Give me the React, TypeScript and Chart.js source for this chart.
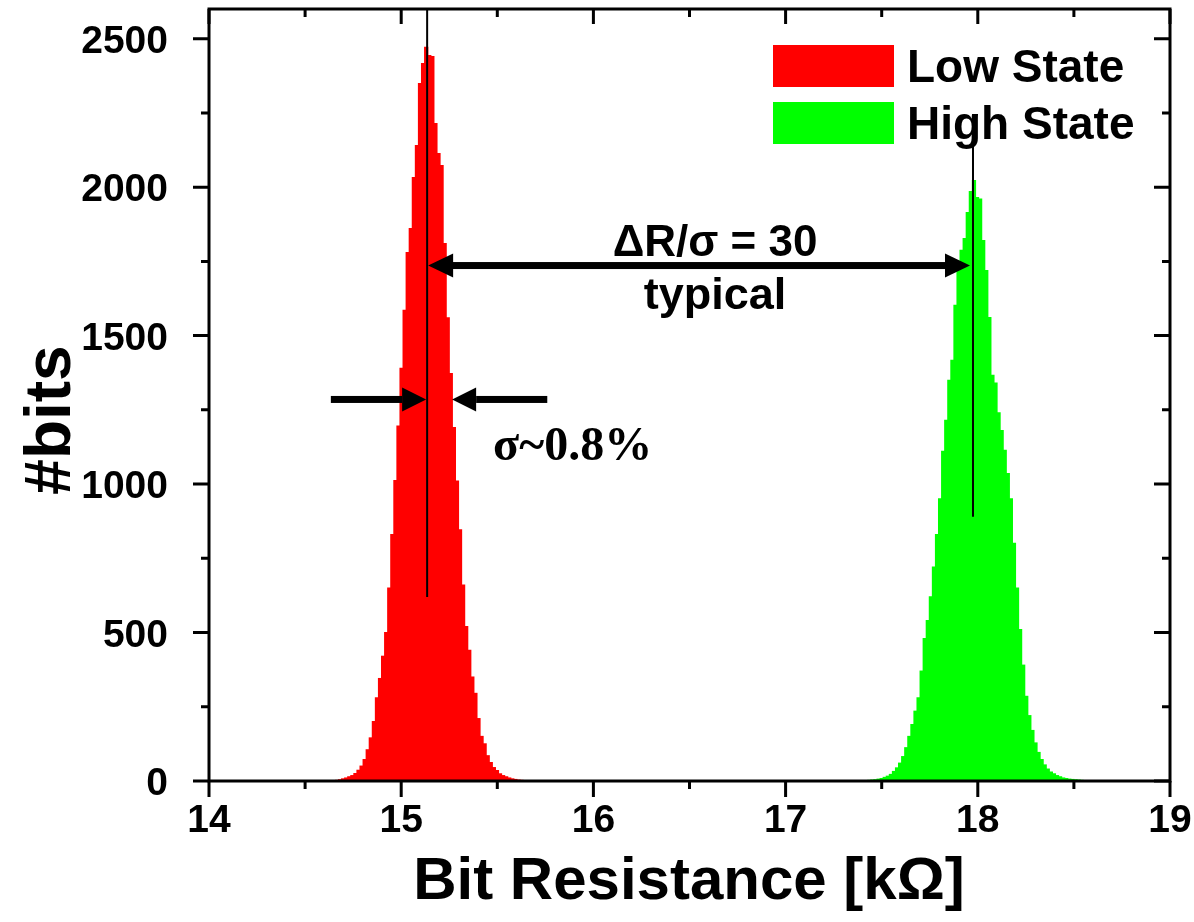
import React, { useEffect, useRef } from "react";
import { Chart, registerables } from "chart.js";

Chart.register(...registerables);

const W = 1194;
const H = 922;

// Histogram data (bin centers start + i * binWidth), counts
const binWidth = 0.016;
const lowStart = 14.65;
const lowCounts = [
  1, 2, 4, 7, 10, 14, 18, 25, 36, 50, 72, 105, 145, 200, 280, 345, 420, 500, 650, 830,
  1012, 1195, 1390, 1585, 1780, 1860, 2032, 2140, 2349, 2416, 2471, 2443, 2440, 2214, 2113, 2073,
  1810, 1560, 1372, 1190, 1010, 846, 660, 520, 440, 350, 295, 210, 150, 125, 85, 62, 45, 35,
  24, 18, 14, 10, 7, 5, 3, 2, 1, 1,
];
const highStart = 17.404;
const highCounts = [
  0, 1, 2, 3, 4, 6, 8, 12, 16, 22, 32, 44, 60, 82, 112, 150, 190, 235, 280, 370, 480, 540,
  620, 720, 830, 950, 1110, 1215, 1349, 1417, 1602, 1719, 1787, 1827, 1914, 1985, 2022, 1965,
  1960, 1820, 1719, 1561, 1366, 1340, 1240, 1180, 1114, 1035, 950, 800, 650, 510, 390, 285, 220,
  170, 128, 96, 72, 54, 40, 30, 24, 18, 14, 10, 8, 6, 5, 4, 3, 2, 1, 1, 0,
];

const seriesNames = ["Low State", "High State"];
const seriesColors = ["#ff0000", "#00ff00"];

const xMin = 14;
const xMax = 19;
const yMin = 0;
const yMax = 2600;
const xTicks = [14, 15, 16, 17, 18, 19];
const xMinorTicks = [14.5, 15.5, 16.5, 17.5, 18.5];
const yTicks = [0, 500, 1000, 1500, 2000, 2500];
const yMinorTicks = [250, 750, 1250, 1750, 2250];

const xTitle = "Bit Resistance [kΩ]";
const yTitle = "#bits";

// Annotation values (data coordinates)
const lowMean = 15.135;
const highMean = 17.975;
const lowLineBottom = 620;
const highLineTop = 2140;
const highLineBottom = 890;
const spanArrowY = 1736;
const sigmaArrowY = 1285;
const sigmaArrowLeftFrom = 14.634;
const sigmaArrowRightFrom = 15.76;
const sigmaArrowRightTo = 15.265;
const ratioLabel = "ΔR/σ = 30";
const typicalLabel = "typical";
const sigmaLabel = "σ~0.8%";

const SANS = '"Liberation Sans", Arial, sans-serif';
const SERIF = '"Liberation Serif", "Times New Roman", serif';

function toPoints(start: number, counts: number[]) {
  return counts.map((c, i) => ({ x: +(start + i * binWidth).toFixed(4), y: c }));
}

function text(
  ctx: CanvasRenderingContext2D,
  s: string,
  x: number,
  y: number,
  font: string,
  align: CanvasTextAlign,
  baseline: CanvasTextBaseline,
  rotate = false
) {
  ctx.save();
  ctx.translate(x, y);
  if (rotate) ctx.rotate(-Math.PI / 2);
  ctx.font = font;
  ctx.textAlign = align;
  ctx.textBaseline = baseline;
  ctx.fillStyle = "#000";
  ctx.fillText(s, 0, 0);
  ctx.restore();
}

function hArrow(ctx: CanvasRenderingContext2D, from: number, to: number, y: number, thick: number, headLen: number, headHalf: number) {
  const dir = to > from ? 1 : -1;
  const base = to - dir * headLen;
  ctx.save();
  ctx.fillStyle = "#000";
  ctx.fillRect(Math.min(from, base), y - thick / 2, Math.abs(base - from), thick);
  ctx.beginPath();
  ctx.moveTo(to, y);
  ctx.lineTo(base, y - headHalf);
  ctx.lineTo(base, y + headHalf);
  ctx.closePath();
  ctx.fill();
  ctx.restore();
}

const decorPlugin = {
  id: "decor",
  afterDatasetsDraw(chart: any) {
    const ctx: CanvasRenderingContext2D = chart.ctx;
    const xs = chart.scales.x;
    const ys = chart.scales.y;
    const { left, right, top, bottom } = chart.chartArea;
    const px = (v: number) => xs.getPixelForValue(v);
    const py = (v: number) => ys.getPixelForValue(v);

    // Mean lines
    ctx.save();
    ctx.strokeStyle = "#000";
    ctx.lineWidth = 2;
    ctx.beginPath();
    ctx.moveTo(px(lowMean), top);
    ctx.lineTo(px(lowMean), py(lowLineBottom));
    ctx.moveTo(px(highMean), py(highLineTop));
    ctx.lineTo(px(highMean), py(highLineBottom));
    ctx.stroke();
    ctx.restore();

    // Arrows
    const ySpan = py(spanArrowY);
    hArrow(ctx, px(lowMean) + 20, px(lowMean) + 1, ySpan, 7, 25, 12);
    hArrow(ctx, px(lowMean) + 10, px(highMean) - 3, ySpan, 7, 25, 12);
    const ySig = py(sigmaArrowY);
    hArrow(ctx, px(sigmaArrowLeftFrom), px(lowMean) - 1, ySig, 7, 24, 12);
    hArrow(ctx, px(sigmaArrowRightFrom), px(sigmaArrowRightTo), ySig, 7, 24, 12);

    // Annotation text
    const midX = px(16.633);
    text(ctx, ratioLabel, midX, 256, `bold 44px ${SANS}`, "center", "alphabetic");
    text(ctx, typicalLabel, midX, 309, `bold 45px ${SANS}`, "center", "alphabetic");
    text(ctx, sigmaLabel, px(15.478), 460, `bold 48px ${SERIF}`, "left", "alphabetic");

    // Frame
    ctx.save();
    ctx.strokeStyle = "#000";
    ctx.lineWidth = 3;
    ctx.strokeRect(left, top, right - left, bottom - top);
    ctx.lineCap = "butt";
    ctx.beginPath();
    for (const v of xTicks) {
      const x = px(v);
      ctx.moveTo(x, bottom); ctx.lineTo(x, bottom + 16);
      ctx.moveTo(x, top); ctx.lineTo(x, top + 15);
    }
    for (const v of xMinorTicks) {
      const x = px(v);
      ctx.moveTo(x, bottom); ctx.lineTo(x, bottom + 8);
      ctx.moveTo(x, top); ctx.lineTo(x, top + 8);
    }
    for (const v of yTicks) {
      const y = py(v);
      ctx.moveTo(left, y); ctx.lineTo(left - 16, y);
      ctx.moveTo(right, y); ctx.lineTo(right - 16, y);
    }
    for (const v of yMinorTicks) {
      const y = py(v);
      ctx.moveTo(left, y); ctx.lineTo(left - 8, y);
      ctx.moveTo(right, y); ctx.lineTo(right - 8, y);
    }
    ctx.stroke();
    ctx.restore();

    // Tick labels
    for (const v of xTicks) text(ctx, String(v), px(v), bottom + 51, `bold 39px ${SANS}`, "center", "alphabetic");
    for (const v of yTicks) text(ctx, String(v), left - 41, py(v) + 14, `bold 39px ${SANS}`, "right", "alphabetic");

    // Axis titles
    text(ctx, xTitle, 689, 899, `bold 60px ${SANS}`, "center", "alphabetic");
    text(ctx, yTitle, 70, (top + bottom) / 2 + 25, `bold 64px ${SANS}`, "center", "alphabetic", true);

    // Legend
    const rows = [66, 123];
    seriesNames.forEach((name, i) => {
      const cy = rows[i];
      ctx.fillStyle = seriesColors[i];
      ctx.fillRect(773, cy - 21, 121, 42);
      text(ctx, name, 907, cy + 16, `bold 46px ${SANS}`, "left", "alphabetic");
    });
  },
};

export default function App() {
  const ref = useRef<HTMLCanvasElement | null>(null);
  useEffect(() => {
    if (!ref.current) return;
    const chart = new Chart(ref.current, {
      type: "bar",
      data: {
        datasets: [
          {
            label: seriesNames[0],
            data: toPoints(lowStart, lowCounts),
            backgroundColor: seriesColors[0],
            borderWidth: 0,
            inflateAmount: 0.6,
            barPercentage: 1,
            categoryPercentage: 1,
            grouped: false,
          } as any,
          {
            label: seriesNames[1],
            data: toPoints(highStart, highCounts),
            backgroundColor: seriesColors[1],
            borderWidth: 0,
            inflateAmount: 0.6,
            barPercentage: 1,
            categoryPercentage: 1,
            grouped: false,
          } as any,
        ],
      },
      options: {
        responsive: false,
        maintainAspectRatio: false,
        animation: false,
        devicePixelRatio: 1,
        layout: { padding: { left: 209, right: 24, top: 9, bottom: 141 } },
        scales: {
          x: { type: "linear", min: xMin, max: xMax, offset: false, display: false },
          y: { type: "linear", min: yMin, max: yMax, display: false },
        },
        plugins: { legend: { display: false }, tooltip: { enabled: false } },
      },
      plugins: [decorPlugin],
    });
    return () => chart.destroy();
  }, []);
  return (
    <div style={{ position: "absolute", left: 0, top: 0, width: W, height: H, background: "#fff" }}>
      <canvas ref={ref} width={W} height={H} style={{ width: W, height: H, display: "block" }} />
    </div>
  );
}
